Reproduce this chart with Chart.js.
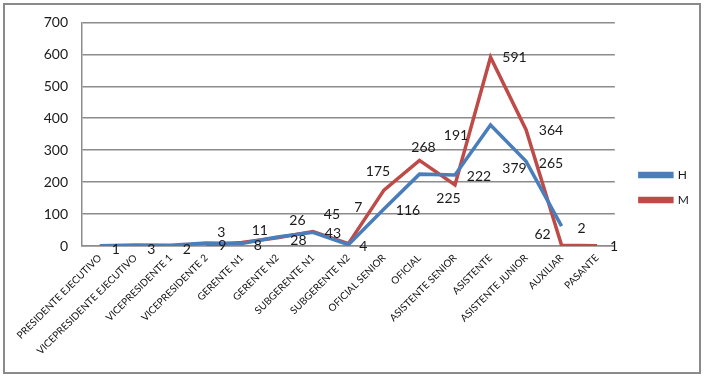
<!DOCTYPE html>
<html>
<head>
<meta charset="utf-8">
<script src="https://cdn.jsdelivr.net/npm/chart.js@4"></script>
<style>
  html, body { margin: 0; padding: 0; background: #fff; }
  #wrap { position: relative; width: 706px; height: 379px; }
  #frame { position: absolute; left: 3px; top: 3px; width: 694px; height: 367px; border: 2px solid #8a8a8a; }
  #chart { position: absolute; left: 0; top: 0; }
</style>
</head>
<body>
<div id="wrap">
  <div id="frame"></div>
  <canvas id="chart" width="706" height="379"></canvas>
</div>
<script>
// categories
var cargos = [
  'PRESIDENTE EJECUTIVO', 'VICEPRESIDENTE EJECUTIVO', 'VICEPRESIDENTE 1', 'VICEPRESIDENTE 2',
  'GERENTE N1', 'GERENTE N2', 'SUBGERENTE N1', 'SUBGERENTE N2', 'OFICIAL SENIOR', 'OFICIAL',
  'ASISTENTE SENIOR', 'ASISTENTE', 'ASISTENTE JUNIOR', 'AUXILIAR', 'PASANTE'
];
// series
var hombres = [1, 3, 2, 9, 8, 28, 43, 4, 116, 225, 222, 379, 265, 62, null];
var mujeres = [null, null, null, 3, 11, 26, 45, 7, 175, 268, 191, 591, 364, 2, 1];
var yTicks = [0, 100, 200, 300, 400, 500, 600, 700];

// where each value label sits relative to its point (dx, dy)
var hShift = [[16,4],[16,4],[16,4],[16,2],[16,2],[21,3],[20,1],[15,2],[24,2],[29,24],[24,1],[24,44],[25,2],[-19,8],[0,0]];
var mShift = [[0,0],[0,0],[0,0],[15,-13],[18,-12],[20,-17],[19,-17],[10,-36],[-6,-19],[4,-13],[1,-50],[24,0],[25,1],[20,-17],[17,1]];

var BLUE = '#4a7ebb', RED = '#be4b48', GRID = '#8c8c8c';
var FONT = 'Lato, "Open Sans", sans-serif';

// ==========================================================================
// value labels
// ==========================================================================
var valueLabels = {
  id: 'valueLabels',
  afterDatasetsDraw: function (chart) {
    var ctx = chart.ctx;
    ctx.save();
    ctx.font = '14px ' + FONT;
    ctx.fillStyle = '#1a1a1a';
    ctx.textAlign = 'center';
    ctx.textBaseline = 'middle';
    chart.data.datasets.forEach(function (ds, di) {
      var meta = chart.getDatasetMeta(di);
      var shift = di === 0 ? hShift : mShift;
      meta.data.forEach(function (pt, i) {
        var v = ds.data[i];
        if (v === null || v === undefined) return;
        ctx.fillText(String(v), pt.x + shift[i][0], pt.y + shift[i][1]);
      });
    });
    ctx.restore();
  }
};

new Chart(document.getElementById('chart'), {
  type: 'line',
  data: {
    labels: cargos,
    datasets: [
      { label: 'H', data: hombres, borderColor: BLUE, backgroundColor: BLUE, borderWidth: 3.5,
        pointRadius: 0, tension: 0, spanGaps: false, borderCapStyle: 'butt' },
      { label: 'M', data: mujeres, borderColor: RED, backgroundColor: RED, borderWidth: 3.5,
        pointRadius: 0, tension: 0, spanGaps: false, borderCapStyle: 'butt' }
    ]
  },
  options: {
    responsive: false,
    animation: false,
    layout: { padding: { left: 0, right: 7, top: 20, bottom: 24 } },
    plugins: {
      legend: {
        position: 'right',
        labels: { boxWidth: 32, boxHeight: 3, padding: 13, color: '#1a1a1a', font: { family: FONT, size: 12 } }
      },
      tooltip: { enabled: false }
    },
    scales: {
      x: {
        offset: true,
        grid: { display: false, drawTicks: false },
        border: { color: GRID, width: 1.5 },
        ticks: { autoSkip: false, maxRotation: 45, minRotation: 45, padding: 6, color: '#111',
          font: { family: FONT, size: 10 } },
        afterFit: function (s) { s.height = 109; }
      },
      y: {
        min: 0, max: 700,
        afterBuildTicks: function (s) { s.ticks = yTicks.map(function (v) { return { value: v }; }); },
        grid: { color: GRID, lineWidth: 1.5, drawTicks: false },
        border: { color: GRID, width: 1.5 },
        ticks: { padding: 14, color: '#1a1a1a', font: { family: FONT, size: 14 } },
        afterFit: function (s) { s.width = 82; }
      },
      gap: {
        type: 'linear', position: 'right', display: true,
        grid: { display: false }, border: { display: false }, ticks: { display: false },
        afterFit: function (s) { s.width = 12; }
      }
    }
  },
  plugins: [valueLabels]
});
</script>
</body>
</html>
